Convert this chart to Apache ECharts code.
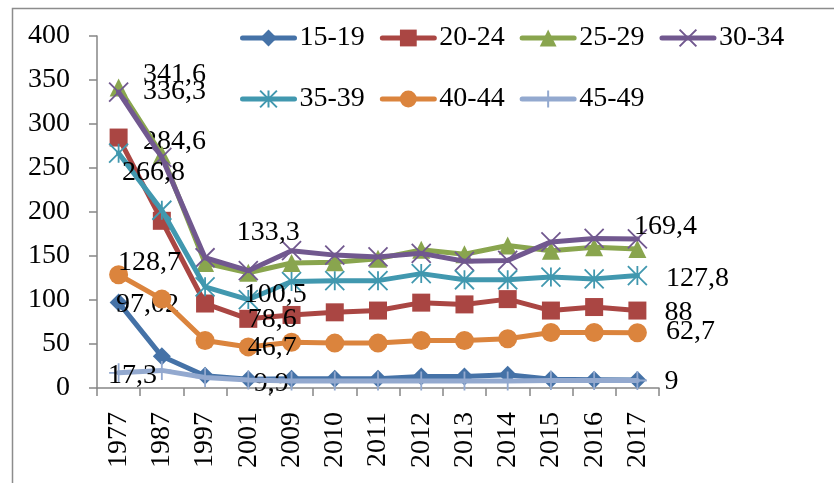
<!DOCTYPE html>
<html>
<head>
<meta charset="utf-8">
<script src="https://cdn.jsdelivr.net/npm/echarts@6/dist/echarts.min.js"></script>
<style>
html,body{margin:0;padding:0;background:#fff;}
#chart{width:834px;height:483px;}
</style>
</head>
<body>
<div id="chart"></div>
<script>
var categories = ['1977','1987','1997','2001','2009','2010','2011','2012','2013','2014','2015','2016','2017'];
var yTicks = [0, 50, 100, 150, 200, 250, 300, 350, 400];

var s15_19 = [97.02, 36, 14, 9.9, 10.5, 10.5, 10.5, 13, 13, 15, 10, 9.5, 9];
var s20_24 = [284.6, 190, 96, 78.6, 83, 86, 88, 97, 95, 101, 88, 92, 88];
var s25_29 = [341.6, 265, 142, 131, 142, 143, 147, 157, 152, 162, 156, 160, 158];
var s30_34 = [336.3, 262, 148, 133.3, 156, 151, 149, 153, 144, 145, 166, 170, 169.4];
var s35_39 = [266.8, 202, 115, 100.5, 121, 122, 122, 130, 123, 123, 126, 124, 127.8];
var s40_44 = [128.7, 101, 54, 46.7, 52, 51, 51, 54, 54, 56, 63, 63, 62.7];
var s45_49 = [17.3, 20, 12, 9, 8, 8, 8, 8, 8, 8, 8.5, 8.5, 8.5];

var seriesNames = ['15-19','20-24','25-29','30-34','35-39','40-44','45-49'];
var seriesValues = [s15_19, s20_24, s25_29, s30_34, s35_39, s40_44, s45_49];
var colors = ['#4572A7','#AA4643','#89A54E','#71588F','#4198AF','#DB843D','#93A9CF'];

var FONT = "'Liberation Serif','Times New Roman',serif";

var symbols = [
  {symbol:'diamond', size:18, stroke:false},
  {symbol:'rect', size:18, stroke:false},
  {symbol:'triangle', size:18, stroke:false},
  {symbol:'path://M0,0L10,10M10,0L0,10', size:19, stroke:true},
  {symbol:'path://M5,0L5,10M0,0L10,10M10,0L0,10', size:19, stroke:true},
  {symbol:'circle', size:19, stroke:false},
  {symbol:'path://M5,0L5,10M0,5L10,5', size:19, stroke:true}
];

// label placement (pixel offsets of the label centre from the point), by series index -> point index
var labelOffsets = [
  {0:[29,2], 3:[23,4], 12:[34,2]},
  {0:[56,4], 3:[24,1], 12:[41,2]},
  {0:[56,-13]},
  {0:[56,0], 3:[20,-38], 12:[28,-12]},
  {0:[35,19], 3:[27,-5], 12:[60,3]},
  {0:[31,-12], 3:[24,1], 12:[53,-1]},
  {0:[14,3]}
];

function fmt(v){ return String(v).replace('.', ','); }

var series = seriesNames.map(function(name, si){
  var sym = symbols[si];
  var data = seriesValues[si].map(function(v, i){
    var off = labelOffsets[si][i];
    if (off) {
      return {
        value: v,
        label: {
          show: true, position: 'inside', offset: off,
          formatter: fmt(v),
          color: '#000', fontFamily: FONT, fontSize: 28,
          align: 'center', verticalAlign: 'middle'
        }
      };
    }
    return v;
  });
  return {
    name: name,
    type: 'line',
    data: data,
    symbol: sym.symbol,
    symbolSize: sym.size,
    showAllSymbol: true,
    lineStyle: {color: colors[si], width: 5, cap: 'round', join: 'round'},
    itemStyle: sym.stroke
      ? {color: 'rgba(0,0,0,0)', borderColor: colors[si], borderWidth: 1.8}
      : {color: colors[si]},
    z: 2 + si,
    emphasis: {disabled: true}
  };
});

var legendCommon = {
  left: 235, itemGap: 15, itemWidth: 52, itemHeight: 21,
  textStyle: {fontFamily: FONT, fontSize: 28, color: '#000'},
  lineStyle: {width: 5, cap: 'round'},
  selectedMode: false
};

var option = {
  animation: false,
  backgroundColor: '#fff',
  graphic: [{
    type: 'rect', left: 10, top: 6, z: -1,
    shape: {x: 0, y: 0, width: 900, height: 600},
    style: {fill: 'none', stroke: '#8c8c8c', lineWidth: 1.5}
  }],
  legend: [
    Object.assign({}, legendCommon, {data: seriesNames.slice(0, 4), top: 19}),
    Object.assign({}, legendCommon, {data: seriesNames.slice(4), top: 80})
  ],
  grid: {left: 97, right: 175, top: 36, bottom: 95, containLabel: false},
  xAxis: {
    type: 'category',
    data: categories,
    boundaryGap: true,
    axisLine: {show: true, lineStyle: {color: '#868686', width: 1.5}},
    axisTick: {show: true, length: 8, alignWithLabel: false, lineStyle: {color: '#868686', width: 1.5}},
    axisLabel: {rotate: 90, margin: 24, color: '#000', fontFamily: FONT, fontSize: 28, interval: 0},
    splitLine: {show: false}
  },
  yAxis: {
    type: 'value',
    min: yTicks[0], max: yTicks[yTicks.length - 1], interval: yTicks[1] - yTicks[0],
    axisLine: {show: true, lineStyle: {color: '#868686', width: 1.5}},
    axisTick: {show: true, length: 8, lineStyle: {color: '#868686', width: 1.5}},
    axisLabel: {margin: 27, color: '#000', fontFamily: FONT, fontSize: 28},
    splitLine: {show: false}
  },
  series: series
};

var chart = echarts.init(document.getElementById('chart'));
chart.setOption(option);
</script>
</body>
</html>
